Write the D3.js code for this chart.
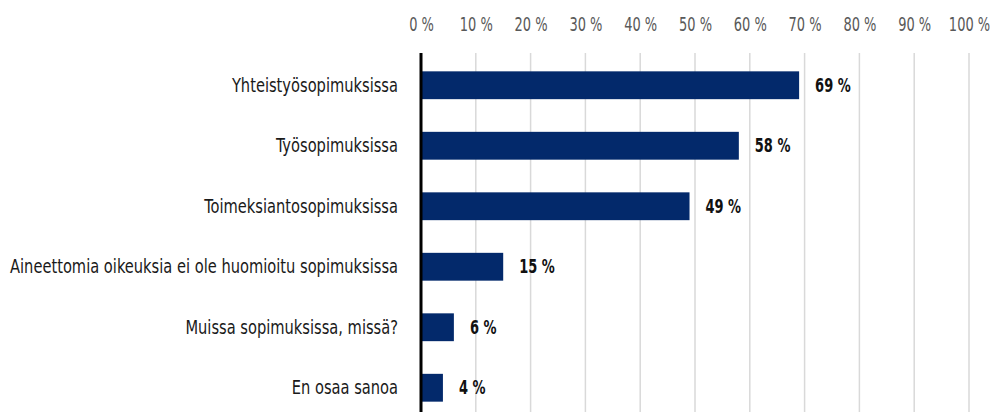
<!DOCTYPE html>
<html lang="fi">
<head>
<meta charset="UTF-8">
<title></title>
<script src="https://d3js.org/d3.v7.min.js"></script>
<style>
  body { margin: 0; background: #fff; }
  svg text { font-family: "Liberation Sans Narrow", "DejaVu Sans Condensed", sans-serif; }
</style>
</head>
<body>
<div id="chart"></div>
<script>
var kategoriat = [
    "Yhteistyösopimuksissa",
    "Työsopimuksissa",
    "Toimeksiantosopimuksissa",
    "Aineettomia oikeuksia ei ole huomioitu sopimuksissa",
    "Muissa sopimuksissa, missä?",
    "En osaa sanoa"
];
var arvot = [69, 58, 49, 15, 6, 4];
var tikit = [0, 10, 20, 30, 40, 50, 60, 70, 80, 90, 100];

var leveys = 993, korkeus = 412;

var svg = d3.select("#chart")
    .append("svg")
    .attr("width", leveys)
    .attr("height", korkeus);

var x = d3.scaleLinear()
    .domain([0, 100])
    .range([421, 969]);

var y = d3.scaleBand()
    .domain(kategoriat)
    .range([55, 418])
    .paddingInner(0.54)
    .paddingOuter(0.27);

// kapeampi fontti: puristetaan tekstiä vaakasuunnassa
function kavenna(sel, k) {
    sel.each(function() {
        var w = this.getComputedTextLength();
        d3.select(this)
            .attr("textLength", w * k)
            .attr("lengthAdjust", "spacingAndGlyphs");
    });
}

// pystysuorat apuviivat
svg.append("g")
    .selectAll("line")
    .data(tikit.slice(1))
    .enter()
    .append("line")
    .attr("x1", d => x(d))
    .attr("x2", d => x(d))
    .attr("y1", 53)
    .attr("y2", korkeus)
    .attr("stroke", "#d9d9d9")
    .attr("stroke-width", 1.5);

// akseli ylhäällä
var akseli = svg.append("g")
    .attr("transform", "translate(0,24)")
    .call(d3.axisTop(x).tickValues(tikit).tickSize(0).tickFormat(d => d + " %"));
akseli.select(".domain").remove();
akseli.attr("font-family", null).attr("font-size", null);
akseli.selectAll("text")
    .attr("dy", "0.35em")
    .attr("y", 0)
    .style("font-size", "19px")
    .attr("fill", "#595959")
    .call(kavenna, 0.76);

// viimeinen tikki ankkuroidaan oikeaan reunaan, ettei se leikkaudu
akseli.selectAll("text")
    .filter(d => d === 100)
    .each(function() {
        var w = +d3.select(this).attr("textLength");
        d3.select(this).attr("text-anchor", "end").attr("x", w / 2);
    });

// palkit
svg.append("g")
    .selectAll("rect")
    .data(arvot)
    .enter()
    .append("rect")
    .attr("x", x(0))
    .attr("y", (d, i) => y(kategoriat[i]))
    .attr("width", d => x(d) - x(0))
    .attr("height", y.bandwidth())
    .attr("fill", "#03296b");

// arvot
svg.append("g")
    .selectAll("text")
    .data(arvot)
    .enter()
    .append("text")
    .attr("x", d => x(d) + 16)
    .attr("y", (d, i) => y(kategoriat[i]) + y.bandwidth() / 2)
    .attr("dy", "0.35em")
    .style("font-size", "19px")
    .style("font-weight", "bold")
    .attr("fill", "#111")
    .text(d => d + " %")
    .call(kavenna, 0.76);

// kategoriat
var nimet = svg.append("g")
    .selectAll("text")
    .data(kategoriat)
    .enter()
    .append("text")
    .attr("x", 398)
    .attr("y", d => y(d) + y.bandwidth() / 2)
    .attr("dy", "0.35em")
    .attr("text-anchor", "end")
    .style("font-size", "19px")
    .attr("fill", "#1a1a1a")
    .text(d => d);

// pisin nimi mahtuu väliin 10..398
var pisin = d3.max(nimet.nodes(), n => n.getComputedTextLength());
nimet.call(kavenna, 388 / pisin);

// nollaviiva
svg.append("line")
    .attr("x1", x(0))
    .attr("x2", x(0))
    .attr("y1", 53)
    .attr("y2", korkeus)
    .attr("stroke", "#000")
    .attr("stroke-width", 3);
</script>
</body>
</html>
